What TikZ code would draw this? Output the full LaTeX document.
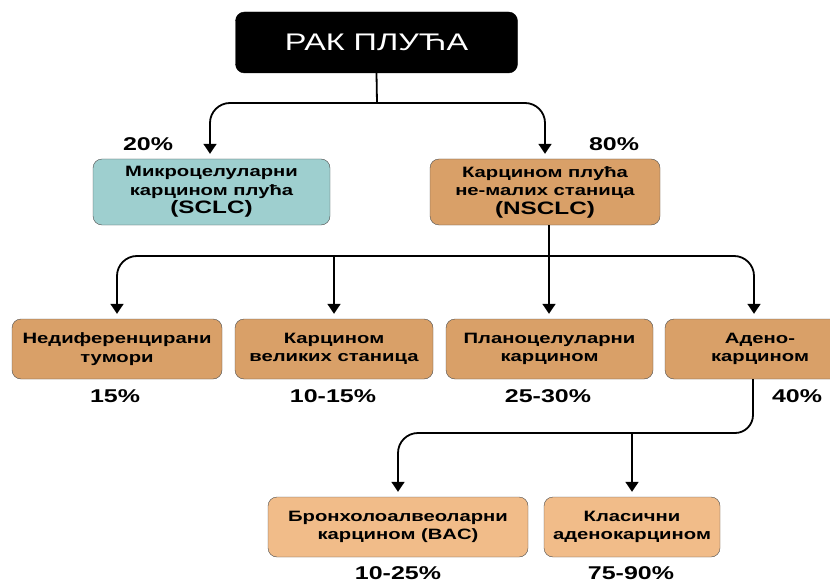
\documentclass[tikz,border=0pt]{standalone}
\usepackage{fontspec}
\setmainfont[FakeStretch=1.35]{Liberation Sans}
\usetikzlibrary{arrows.meta}

\definecolor{sclcfill}{RGB}{158,207,207}
\definecolor{typefill}{RGB}{217,160,104}
\definecolor{subfill}{RGB}{241,188,137}

\tikzset{
  box/.style={
    draw=black!70,
    rounded corners=9pt,
    align=center,
    inner sep=2pt,
    font=\bfseries\fontsize{15}{18.5}\selectfont
  },
  pct/.style={
    anchor=base,
    inner sep=1pt,
    font=\bfseries\fontsize{18.5}{20}\selectfont
  },
  link/.style={
    line width=1.8pt
  },
  arr/.style={
    link,
    -{Triangle[width=13pt,length=10pt]},
    shorten >=5pt
  }
}

\begin{document}
\begin{tikzpicture}[x=1pt,y=-1pt]
  \useasboundingbox (0,0) rectangle (830,583);

  \node[box, fill=black, draw=black, text=white, minimum width=282pt, minimum height=61pt,
        font=\fontsize{24}{30}\selectfont] (rak) at (376.5,42.5) {РАК ПЛУЋА};

  \node[box, fill=sclcfill, minimum width=237pt, minimum height=66pt] (sclc) at (211.5,192)
    {Микроцелуларни\\карцином плућа\\{\fontsize{18}{20}\selectfont (SCLC)}};
  \node[box, fill=typefill, minimum width=230pt, minimum height=66pt] (nsclc) at (545,192)
    {Карцином плућа\\не-малих станица\\{\fontsize{18}{20}\selectfont (NSCLC)}};
  \node[pct] (p20) at (148,150) {20\%};
  \node[pct] (p80) at (614,150) {80\%};

  \node[box, fill=typefill, minimum width=210pt, minimum height=60pt] (nedif) at (117,349)
    {Недиференцирани\\тумори};
  \node[box, fill=typefill, minimum width=198pt, minimum height=60pt] (velik) at (334,349)
    {Карцином\\великих станица};
  \node[box, fill=typefill, minimum width=207pt, minimum height=60pt] (plano) at (549.5,349)
    {Планоцелуларни\\карцином};
  \node[box, fill=typefill, minimum width=190pt, minimum height=60pt] (adeno) at (760,349)
    {Адено-\\карцином};
  \node[pct] (p15) at (115,402) {15\%};
  \node[pct] (p1015) at (333,402) {10-15\%};
  \node[pct] (p2530) at (548,402) {25-30\%};
  \node[pct] (p40) at (797,402) {40\%};

  \node[box, fill=subfill, minimum width=260pt, minimum height=60pt] (bac) at (398,527)
    {Бронхолоалвеоларни\\карцином (BAC)};
  \node[box, fill=subfill, minimum width=176pt, minimum height=60pt] (klas) at (632,527)
    {Класични\\аденокарцином};
  \node[pct] (p1025) at (398,579.5) {10-25\%};
  \node[pct] (p7590) at (631,579.5) {75-90\%};

  % rak pluca -> sclc, nsclc
  \coordinate (s1) at (377,103);
  \draw[link] (rak.south) -- (s1);
  \draw[arr, rounded corners=20pt] (s1) -| (sclc.north -| 210,0);
  \draw[arr, rounded corners=20pt] (s1) -| (nsclc.north);

  % nsclc -> types
  \coordinate (s2) at (549,256);
  \draw[arr] (nsclc.south -| s2) -- (plano.north -| s2);
  \draw[arr, rounded corners=20pt] (s2) -| (nedif.north);
  \draw[arr, rounded corners=20pt] (s2) -| ([xshift=-6pt]adeno.north);
  \draw[arr] (velik.north |- s2) -- (velik.north);

  % adeno -> subtypes
  \coordinate (s3) at (632,433);
  \draw[link, rounded corners=18pt] ([xshift=-7pt]adeno.south) |- (s3);
  \draw[arr, rounded corners=20pt] (s3) -| (bac.north);
  \draw[arr] (s3) -- (klas.north);
\end{tikzpicture}
\end{document}
